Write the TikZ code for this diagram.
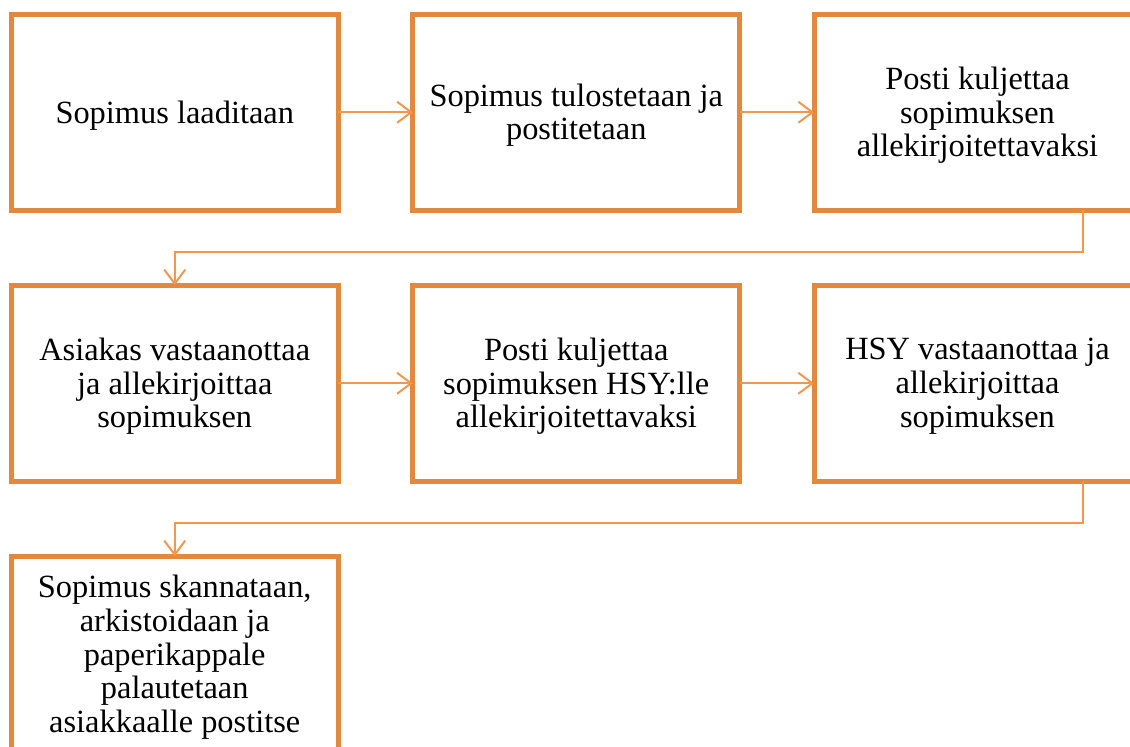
\documentclass[tikz,border=0pt]{standalone}
\usepackage{fontspec}
\setmainfont{Liberation Serif}
\newfontfamily\boxfont{Liberation Serif}
\usetikzlibrary{arrows.meta}
\definecolor{boxorange}{RGB}{226,137,62}
\definecolor{linkorange}{RGB}{244,150,76}
\tikzset{
  stepbox/.style={draw=boxorange, line width=5pt, fill=white,
    minimum width=327pt, minimum height=196pt, inner sep=0pt, outer sep=0pt},
  steptext/.style={align=center, inner sep=0pt, yshift=-3pt,
    font=\boxfont\fontsize{32.4}{33.7}\selectfont},
  conn/.style={draw=linkorange, line width=2pt,
    -{Straight Barb[length=14pt, width=21pt, line width=2pt]}},
}
\begin{document}
\begin{tikzpicture}[x=1pt, y=-1pt]
  \useasboundingbox (0,0) rectangle (1130,747);
  \clip (0,0) rectangle (1130,747);
  % first row
  \node[stepbox, label={[steptext]center:{Sopimus laaditaan}}] (b1) at (174.75,112.25) {};
  \node[stepbox, label={[steptext]center:{Sopimus tulostetaan ja\\postitetaan}}] (b2) at (576.25,112.25) {};
  \node[stepbox, label={[steptext]center:{Posti kuljettaa\\sopimuksen\\allekirjoitettavaksi}}] (b3) at (977.5,112.25) {};
  % second row
  \node[stepbox, label={[steptext]center:{Asiakas vastaanottaa\\ja allekirjoittaa\\sopimuksen}}] (b4) at (174.75,383.25) {};
  \node[stepbox, label={[steptext]center:{Posti kuljettaa\\sopimuksen HSY:lle\\allekirjoitettavaksi}}] (b5) at (576.25,383.25) {};
  \node[stepbox, label={[steptext]center:{HSY vastaanottaa ja\\allekirjoittaa\\sopimuksen}}] (b6) at (977.5,383.25) {};
  % third row
  \node[stepbox, label={[steptext]center:{Sopimus skannataan,\\arkistoidaan ja\\paperikappale\\palautetaan\\asiakkaalle postitse}}] (b7) at (174.75,654.25) {};
  % bend points of the row-changing links
  \coordinate (k1) at (1083,252);
  \coordinate (k2) at (1083,523);
  % links
  \draw[conn] (b1.east) -- (b2.west);
  \draw[conn] (b2.east) -- (b3.west);
  \draw[conn] (b3.south -| k1) -- (k1) -| (b4.north);
  \draw[conn] (b4.east) -- (b5.west);
  \draw[conn] (b5.east) -- (b6.west);
  \draw[conn] (b6.south -| k2) -- (k2) -| (b7.north);
\end{tikzpicture}
\end{document}
